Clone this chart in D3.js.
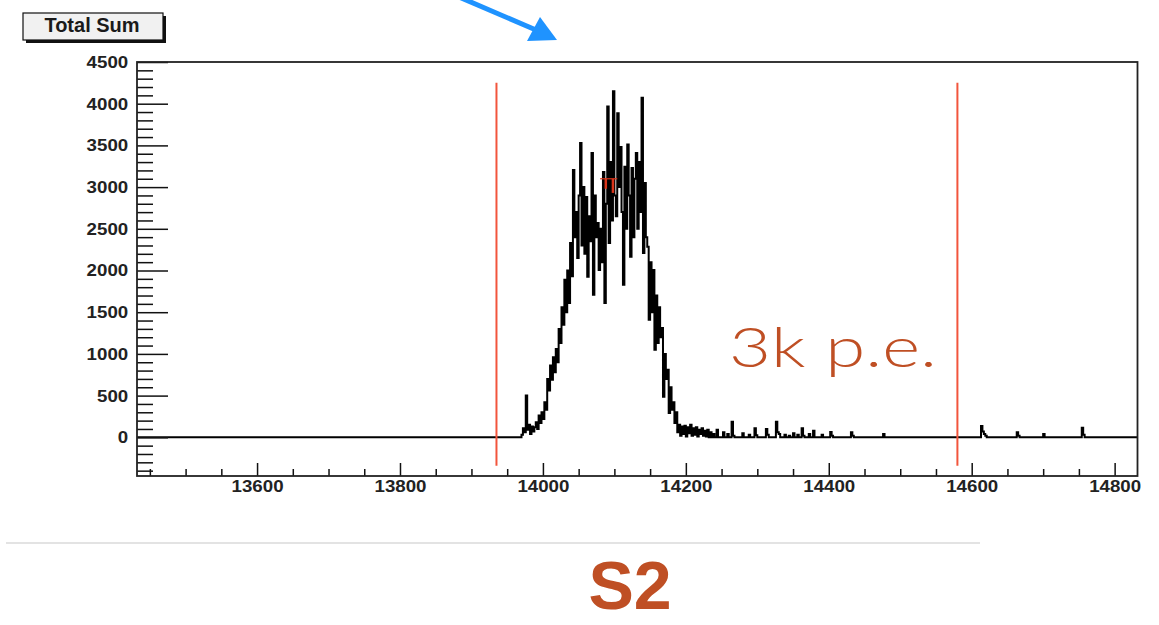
<!DOCTYPE html>
<html>
<head>
<meta charset="utf-8">
<script src="https://cdn.jsdelivr.net/npm/d3@7"></script>
<style>
  body { margin: 0; background: #fff; }
  svg { display: block; }
</style>
</head>
<body>
<div class="playground"></div>
<script>
// histogram of the summed waveform, bins 2 samples wide
var binWidth    = 2;
var peakStart   = 13970;
var peakValues  = [
  30, 110, 60, 500, 90, 150, 40, 130, 70, 120,
  180, 100, 260, 170, 300, 220, 420, 330, 700, 560,
  860, 690, 960, 780, 1060, 900, 1300, 1130, 1560, 1350,
  1890, 1500, 2000, 1610, 2330, 1930, 3205, 2400, 2700, 2150,
  2900, 3530, 2300, 3000, 2200, 2880, 1925, 2650, 2350, 3410,
  1710, 2900, 2400, 2570, 2005, 2500, 2100, 3180, 1610, 2800,
  3965, 2330, 3300, 2600, 4150, 2900, 2650, 3885, 3000, 3480,
  2700, 1830, 3245, 2500, 3510, 2900, 2165, 3230, 2400, 3100,
  3410, 2500, 3300, 2700, 4070, 2210, 3050, 2400, 2285, 1410,
  2100, 1500, 2005, 1050, 1700, 1130, 1560, 1200, 1310, 485,
  1000, 700, 810, 290, 600, 330, 420, 170, 300, 60,
  150, 20, 130, 40, 140, 10, 120, 50, 150, 20,
  110, 30, 120, 10, 90, 40, 110, 20, 80, 10,
  90, 0, 60, 0, 40
];

// small afterpulses in the tail
var tailStarts  = [14243, 14252, 14258, 14264, 14266, 14279, 14288, 14296, 14298, 14312,
                   14314, 14326, 14328, 14330, 14338, 14344, 14350, 14356, 14362, 14364,
                   14372, 14378, 14390, 14402, 14404, 14431, 14433, 14476, 14613, 14615,
                   14617, 14619, 14663, 14665, 14700, 14754, 14756];
var tailValues  = [90, 60, 40, 185, 20, 50, 30, 110, 25, 100,
                   30, 185, 60, 40, 30, 20, 50, 30, 110, 20,
                   40, 80, 30, 65, 20, 60, 20, 40, 135, 70,
                   40, 20, 60, 20, 40, 115, 30];

// integration window
var cutLines    = [13935, 14580];
var cutSpan     = [-340, 4250];

// mean marker
var markerX     = [14080, 14104];
var markerY     = 3100;

var xDomain     = [13432, 14832];
var yDomain     = [-464, 4500];
var xMajorTicks = [13600, 13800, 14000, 14200, 14400, 14600, 14800];
var yMajorTicks = [0, 500, 1000, 1500, 2000, 2500, 3000, 3500, 4000, 4500];

var width  = 1159,
    height = 625;

var x = d3.scaleLinear().domain(xDomain).range([137, 1137.5]);
var y = d3.scaleLinear().domain(yDomain).range([476, 62]);

var svg = d3.select(".playground")
            .append("svg")
            .attr("width", width)
            .attr("height", height);

// blue arrow at the top
svg.append("line")
   .attr("x1", 438).attr("y1", -12)
   .attr("x2", 536).attr("y2", 30)
   .attr("stroke", "#1f93ff")
   .attr("stroke-width", 5);
svg.append("path")
   .attr("d", "M540,17 L557,40 L527,41 Z")
   .attr("fill", "#1f93ff");

// title box
svg.append("rect")
   .attr("x", 26).attr("y", 16)
   .attr("width", 140).attr("height", 27)
   .attr("fill", "#111");
svg.append("rect")
   .attr("x", 23).attr("y", 13)
   .attr("width", 140).attr("height", 27)
   .attr("fill", "#f1f1f1")
   .attr("stroke", "#111")
   .attr("stroke-width", 1.2);
svg.append("text")
   .attr("x", 92).attr("y", 32)
   .attr("text-anchor", "middle")
   .attr("font-family", "Liberation Sans, Arial, sans-serif")
   .attr("font-weight", "bold")
   .attr("font-size", 20)
   .attr("fill", "#1a1a1a")
   .text("Total Sum");

// build bin list (peak + tail) and step path
var bins = [];
for (var i = 0; i < peakValues.length; i++) {
  bins.push({ start: peakStart + i * binWidth, value: peakValues[i] });
}
for (var j = 0; j < tailStarts.length; j++) {
  bins.push({ start: tailStarts[j], value: tailValues[j] });
}

var pts = [[xDomain[0], 0]];
var prevEnd = xDomain[0];
bins.forEach(function(b) {
  if (b.start > prevEnd) pts.push([prevEnd, 0]);
  pts.push([b.start, b.value]);
  prevEnd = b.start + binWidth;
});
pts.push([prevEnd, 0]);
pts.push([xDomain[1], 0]);

var line = d3.line()
             .x(function(d) { return x(d[0]); })
             .y(function(d) { return y(d[1]); })
             .curve(d3.curveStepAfter);

svg.append("path")
   .datum(pts)
   .attr("d", line)
   .attr("fill", "none")
   .attr("stroke", "#000")
   .attr("stroke-width", 2);

// red marker at the peak
svg.append("line")
   .attr("x1", x(markerX[0])).attr("x2", x(markerX[1]))
   .attr("y1", y(markerY)).attr("y2", y(markerY))
   .attr("stroke", "#d8341a").attr("stroke-width", 1.2);
svg.selectAll(".mk")
   .data([[14088, 2980], [14098, 2930]])
   .enter()
   .append("line")
   .attr("x1", function(d) { return x(d[0]); })
   .attr("x2", function(d) { return x(d[0]); })
   .attr("y1", y(markerY))
   .attr("y2", function(d) { return y(d[1]); })
   .attr("stroke", "#d8341a").attr("stroke-width", 2.5);

// axes
var labelFont = "Liberation Sans, Arial, sans-serif";
var fmt = d3.format("d");

var yAxis = svg.append("g")
               .attr("transform", "translate(137,0)")
               .call(d3.axisLeft(y).tickValues(yMajorTicks).tickFormat(fmt).tickSize(-31).tickPadding(8));
var yMinor = svg.append("g")
               .attr("transform", "translate(137,0)")
               .call(d3.axisLeft(y)
                 .tickValues(d3.range(-400, 4500, 100).filter(function(v) { return v % 500 !== 0; }))
                 .tickSize(-16).tickFormat(""));

var xAxis = svg.append("g")
               .attr("transform", "translate(0,476)")
               .call(d3.axisBottom(x).tickValues(xMajorTicks).tickFormat(fmt).tickSize(-13).tickPadding(4));
var xMinor = svg.append("g")
               .attr("transform", "translate(0,476)")
               .call(d3.axisBottom(x)
                 .tickValues(d3.range(13450, 14832, 50).filter(function(v) { return v % 200 !== 0; }))
                 .tickSize(-7).tickFormat(""));

[yAxis, yMinor, xAxis, xMinor].forEach(function(g) {
  g.select(".domain").remove();
  g.selectAll(".tick line").attr("stroke", "#111").attr("stroke-width", 1.5);
  g.selectAll("text")
   .attr("font-family", labelFont)
   .attr("font-weight", "bold")
   .attr("font-size", 17)
   .attr("fill", "#222")
   .attr("transform", "scale(1.1,1)");
});

// frame
svg.append("rect")
   .attr("x", 137).attr("y", 62)
   .attr("width", 1000.5).attr("height", 414)
   .attr("fill", "none")
   .attr("stroke", "#222")
   .attr("stroke-width", 1.8);

// cut lines
svg.selectAll(".cut")
   .data(cutLines)
   .enter()
   .append("line")
   .attr("x1", function(d) { return x(d); })
   .attr("x2", function(d) { return x(d); })
   .attr("y1", y(cutSpan[1]))
   .attr("y2", y(cutSpan[0]))
   .attr("stroke", "#f2553c")
   .attr("stroke-width", 2);

// annotations
svg.append("text")
   .attr("x", 729).attr("y", 367)
   .attr("font-family", "Lato, Helvetica, sans-serif")
   .attr("font-weight", 300)
   .attr("font-size", 56)
   .attr("textLength", 208)
   .attr("lengthAdjust", "spacingAndGlyphs")
   .attr("fill", "#bf4f24")
   .text("3k p.e.");

svg.append("line")
   .attr("x1", 6).attr("x2", 980)
   .attr("y1", 543).attr("y2", 543)
   .attr("stroke", "#e3e3e3")
   .attr("stroke-width", 2);

svg.append("text")
   .attr("x", 630).attr("y", 609)
   .attr("text-anchor", "middle")
   .attr("font-family", "Liberation Sans, Arial, sans-serif")
   .attr("font-weight", "bold")
   .attr("font-size", 68)
   .attr("fill", "#bf4f24")
   .text("S2");
</script>
</body>
</html>
